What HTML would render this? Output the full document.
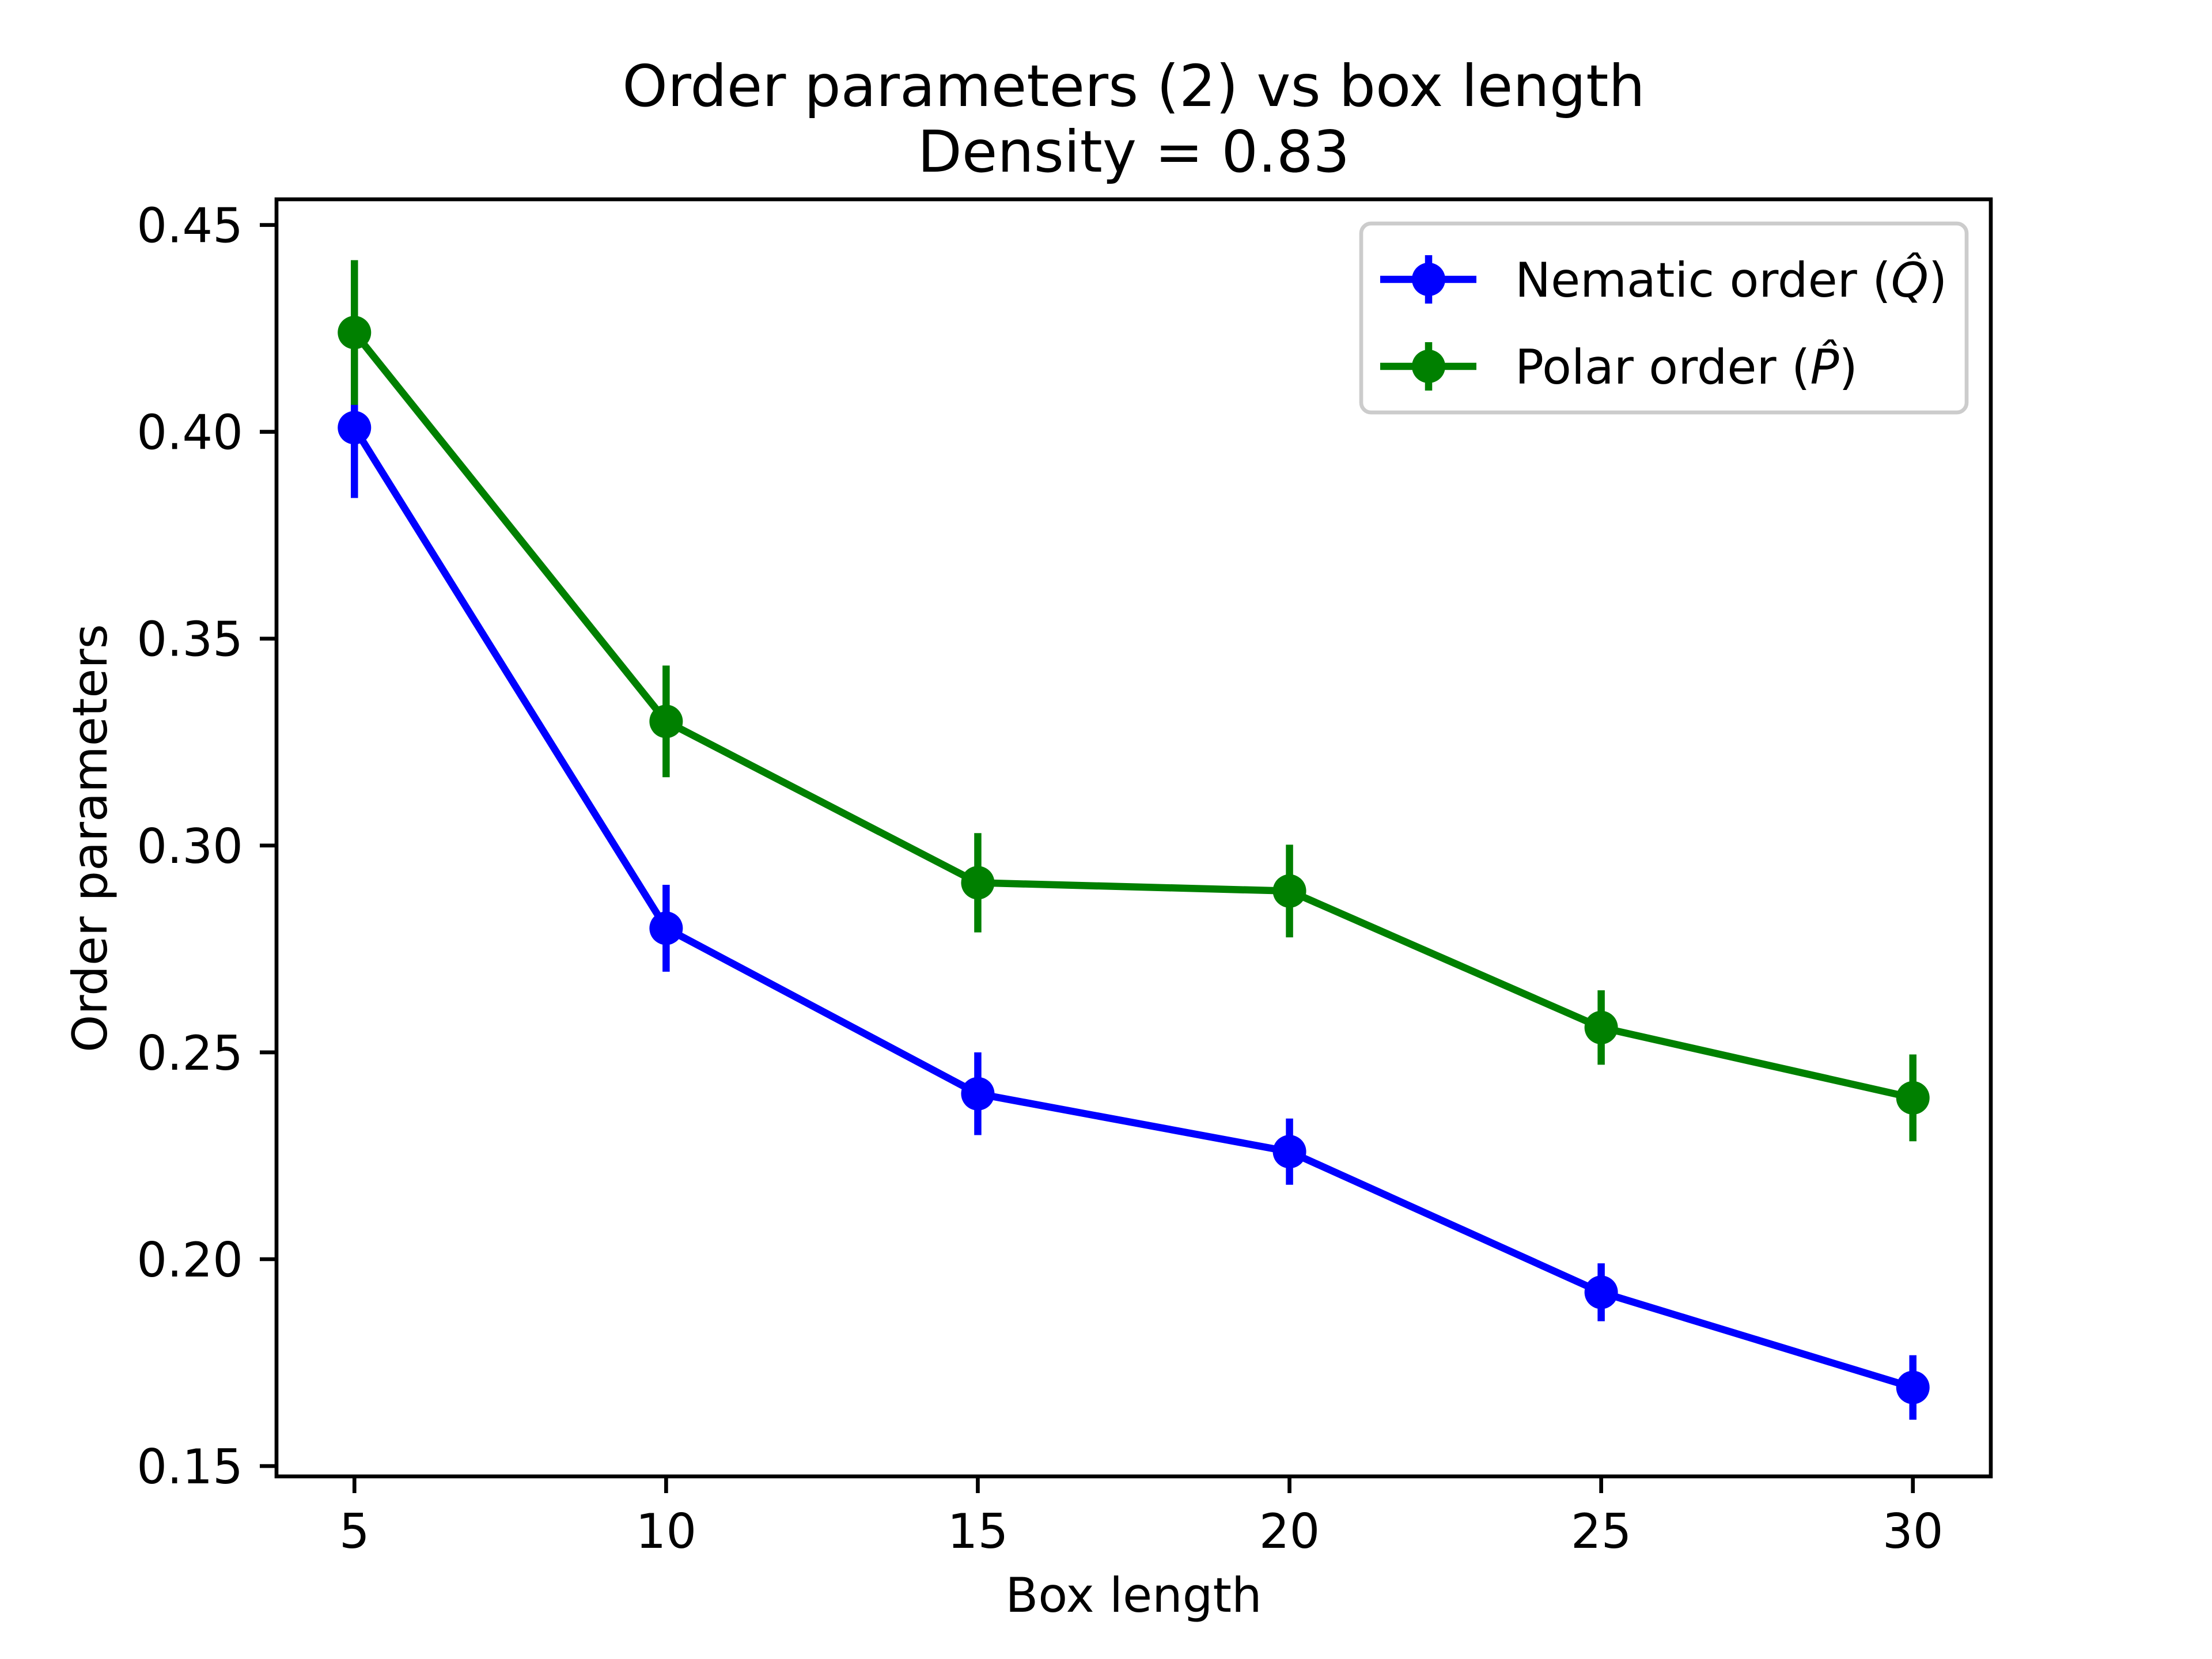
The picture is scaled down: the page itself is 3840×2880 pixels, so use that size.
<!DOCTYPE html>
<html><head><meta charset="utf-8"><style>
html,body{margin:0;padding:0;background:#fff;}
svg{display:block;}
text{font-family:"DejaVu Sans","Liberation Sans",sans-serif;fill:#000;}
</style></head><body>
<svg id="chart" width="3840" height="2880" viewBox="0 0 3840 2880" xmlns="http://www.w3.org/2000/svg">
<rect width="3840" height="2880" fill="#fff"/>
<text x="1968" y="184" font-size="100" text-anchor="middle">Order parameters (2) vs box length</text>
<text x="1968" y="298" font-size="100" text-anchor="middle">Density = 0.83</text>
<g id="plot"></g>
<text x="1968" y="2798" font-size="83" text-anchor="middle">Box length</text>
<text x="185" y="1455" font-size="83" text-anchor="middle" transform="rotate(-90 185 1455)">Order parameters</text>
</svg>
<script>
const boxLengths = [5, 10, 15, 20, 25, 30];
const nematic = [0.401, 0.280, 0.240, 0.226, 0.192, 0.169];
const nematicErr = [0.017, 0.0105, 0.010, 0.008, 0.007, 0.0078];
const polar = [0.424, 0.330, 0.291, 0.289, 0.256, 0.239];
const polarErr = [0.0175, 0.0135, 0.012, 0.0112, 0.009, 0.0105];
const xTicks = [5, 10, 15, 20, 25, 30];
const yTicks = [0.15, 0.20, 0.25, 0.30, 0.35, 0.40, 0.45];

const L = 480, R = 3456, T = 346, B = 2563;
const xMin = 3.75, xMax = 31.25, yMin = 0.1475, yMax = 0.4562;
const sx = v => L + (v - xMin) / (xMax - xMin) * (R - L);
const sy = v => B - (v - yMin) / (yMax - yMin) * (B - T);
const NS = 'http://www.w3.org/2000/svg';
const plot = document.getElementById('plot');
const MR = 29;
function mk(tag, attrs, parent) {
  const e = document.createElementNS(NS, tag);
  for (const k in attrs) e.setAttribute(k, attrs[k]);
  (parent || plot).appendChild(e);
  return e;
}

function drawSeries(vals, errs, color, name) {
  const g = mk('g', {});
  
  
  vals.forEach((v, i) => {
    const eb = mk('line', {x1: sx(boxLengths[i]), x2: sx(boxLengths[i]), y1: sy(v - errs[i]), y2: sy(v + errs[i]), stroke: color, 'stroke-width': 12.5}, g);
    
    
  });
  const pts = vals.map((v, i) => sx(boxLengths[i]) + ',' + sy(v)).join(' ');
  const pl = mk('polyline', {points: pts, fill: 'none', stroke: color, 'stroke-width': 12.5, 'stroke-linejoin': 'round'}, g);
  
  
  vals.forEach((v, i) => {
    const c = mk('circle', {cx: sx(boxLengths[i]), cy: sy(v), r: MR, fill: color}, g);
    
    
  });
}
drawSeries(nematic, nematicErr, '#0000ff', 'nematic');
drawSeries(polar, polarErr, '#008000', 'polar');

const frame = mk('rect', {x: L, y: T, width: R - L, height: B - T, fill: 'none', stroke: '#000', 'stroke-width': 6.67});



xTicks.forEach(t => {
  const tk = mk('line', {x1: sx(t), x2: sx(t), y1: B, y2: B + 29, stroke: '#000', 'stroke-width': 6.67});
  
  
  const tx = mk('text', {x: sx(t), y: B + 29 + 29 + 66, 'font-size': 83, 'text-anchor': 'middle'});
  
  
  tx.textContent = String(t);
});
yTicks.forEach(t => {
  const tk = mk('line', {x1: L - 29, x2: L, y1: sy(t), y2: sy(t), stroke: '#000', 'stroke-width': 6.67});
  
  
  const tx = mk('text', {x: L - 58, y: sy(t) + 30, 'font-size': 83, 'text-anchor': 'end'});
  
  
  tx.textContent = t.toFixed(2);
});

const lg = mk('g', {});


const lbox = mk('rect', {x: 2363, y: 388, width: 1051, height: 328, rx: 17, fill: '#fff', 'fill-opacity': 0.8, stroke: '#cccccc', 'stroke-width': 6.67}, lg);


const entries = [['Nematic order (', 'Q', ')', '#0000ff', 485], ['Polar order (', 'P', ')', '#008000', 636]];
entries.forEach(en => {
  const eg = mk('g', {}, lg);
  
  
  mk('line', {x1: 2396, x2: 2563, y1: en[4], y2: en[4], stroke: en[3], 'stroke-width': 12.5}, eg);
  mk('line', {x1: 2480, x2: 2480, y1: en[4] - 42, y2: en[4] + 42, stroke: en[3], 'stroke-width': 12.5}, eg);
  mk('circle', {cx: 2480, cy: en[4], r: MR, fill: en[3]}, eg);
  const t = mk('text', {x: 2630, y: en[4] + 30, 'font-size': 83}, eg);
  
  
  const a = document.createElementNS(NS, 'tspan'); a.textContent = en[0]; t.appendChild(a);
  const b = document.createElementNS(NS, 'tspan'); b.setAttribute('font-style', 'italic'); b.textContent = en[1] + '\u0302'; t.appendChild(b);
  const c = document.createElementNS(NS, 'tspan'); c.textContent = en[2]; t.appendChild(c);
});
</script>
</body></html>
